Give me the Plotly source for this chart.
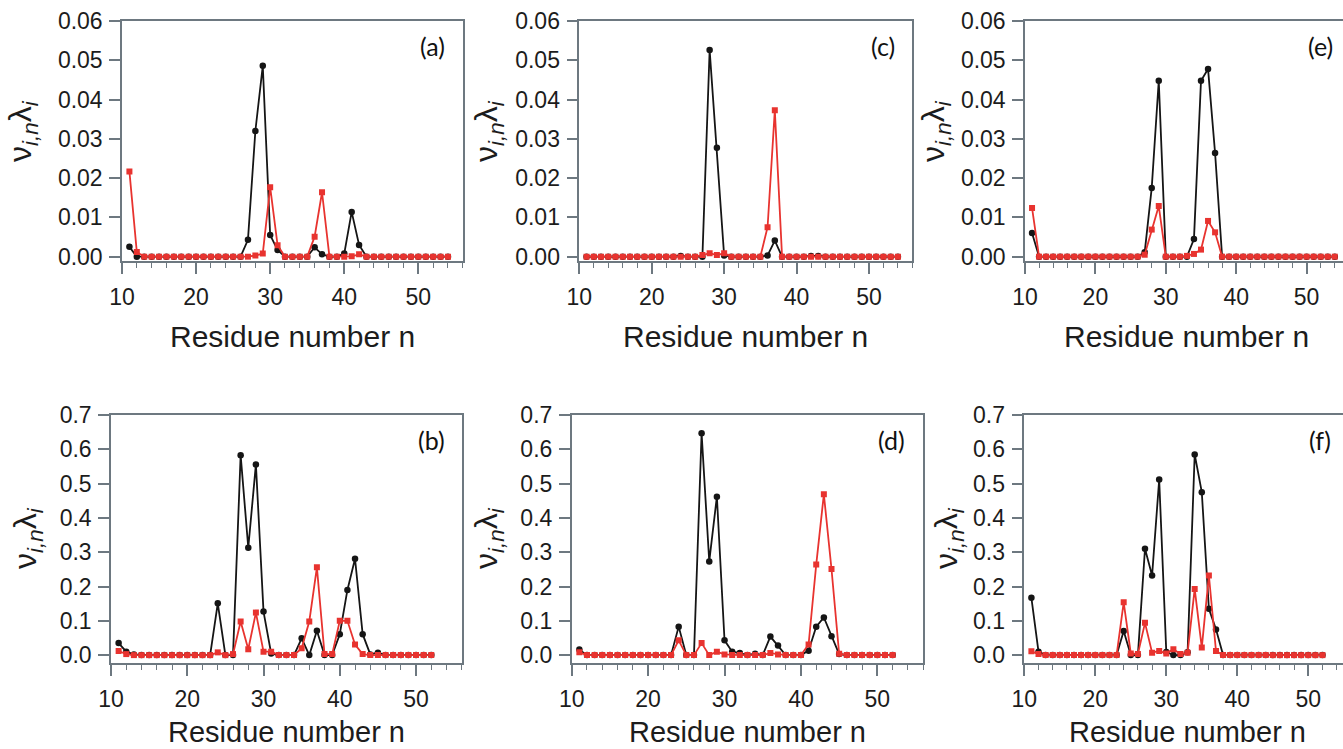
import plotly.graph_objects as go

# ---------------- data ----------------
residues_top = [11, 12, 13, 14, 15, 16, 17, 18, 19, 20,
                21, 22, 23, 24, 25, 26, 27, 28, 29, 30,
                31, 32, 33, 34, 35, 36, 37, 38, 39, 40,
                41, 42, 43, 44, 45, 46, 47, 48, 49, 50,
                51, 52, 53, 54]
residues_bottom = [11, 12, 13, 14, 15, 16, 17, 18, 19, 20,
                   21, 22, 23, 24, 25, 26, 27, 28, 29, 30,
                   31, 32, 33, 34, 35, 36, 37, 38, 39, 40,
                   41, 42, 43, 44, 45, 46, 47, 48, 49, 50,
                   51, 52]

# panel (a)
a_black = [0.0025, 0, 0, 0, 0, 0, 0, 0, 0, 0,
           0, 0, 0, 0, 0, 0, 0.0043, 0.032, 0.0486, 0.0055,
           0.0017, 0, 0, 0, 0, 0.0024, 0.0006, 0, 0, 0.0008,
           0.0114, 0.003, 0, 0, 0, 0, 0, 0, 0, 0,
           0, 0, 0, 0]
a_red = [0.0217, 0.0012, 0, 0, 0, 0, 0, 0, 0, 0,
         0, 0, 0, 0, 0, 0, 0, 0.0003, 0.0008, 0.0177,
         0.0029, 0, 0, 0, 0, 0.0051, 0.0164, 0, 0, 0,
         0.0001, 0.0006, 0, 0, 0, 0, 0, 0, 0, 0,
         0, 0, 0, 0]
# panel (c)
c_black = [0, 0, 0, 0, 0, 0, 0, 0, 0, 0,
           0, 0, 0, 0.0002, 0, 0, 0, 0.0526, 0.0277, 0.0003,
           0, 0, 0, 0, 0, 0.0003, 0.0041, 0, 0, 0,
           0, 0.0002, 0.0002, 0, 0, 0, 0, 0, 0, 0,
           0, 0, 0, 0]
c_red = [0, 0, 0, 0, 0, 0, 0, 0, 0, 0,
         0, 0, 0, 0, 0, 0, 0.0004, 0.0009, 0.0004, 0.0009,
         0, 0, 0, 0, 0, 0.0075, 0.0373, 0, 0, 0,
         0, 0, 0, 0, 0, 0, 0, 0, 0, 0,
         0, 0, 0, 0]
# panel (e)
e_black = [0.006, 0, 0, 0, 0, 0, 0, 0, 0, 0,
           0, 0, 0, 0, 0, 0, 0.0011, 0.0175, 0.0448, 0,
           0, 0, 0, 0.0045, 0.0448, 0.0478, 0.0264, 0, 0, 0,
           0, 0, 0, 0, 0, 0, 0, 0, 0, 0,
           0, 0, 0, 0]
e_red = [0.0124, 0, 0, 0, 0, 0, 0, 0, 0, 0,
         0, 0, 0, 0, 0, 0, 0.0005, 0.0069, 0.0129, 0,
         0, 0, 0.0002, 0.0007, 0.0018, 0.0091, 0.0062, 0, 0, 0,
         0, 0, 0, 0, 0, 0, 0, 0, 0, 0,
         0, 0, 0, 0]
# panel (b)
b_black = [0.035, 0.01, 0.002, 0, 0, 0, 0, 0, 0, 0,
           0, 0, 0, 0.151, 0, 0, 0.583, 0.313, 0.556, 0.127,
           0.005, 0, 0, 0, 0.049, 0, 0.071, 0, 0, 0.061,
           0.19, 0.281, 0.061, 0.002, 0.007, 0, 0, 0, 0, 0,
           0, 0]
b_red = [0.012, 0.003, 0, 0, 0, 0, 0, 0, 0, 0,
         0, 0, 0, 0.008, 0, 0.003, 0.098, 0.017, 0.124, 0.01,
         0.01, 0, 0, 0, 0.02, 0.098, 0.256, 0.003, 0.003, 0.1,
         0.1, 0.031, 0.003, 0, 0, 0, 0, 0, 0, 0,
         0, 0]
# panel (d)
d_black = [0.016, 0, 0, 0, 0, 0, 0, 0, 0, 0,
           0, 0, 0, 0.083, 0, 0, 0.647, 0.273, 0.462, 0.043,
           0.01, 0.006, 0, 0.004, 0, 0.054, 0.028, 0, 0, 0,
           0.013, 0.083, 0.11, 0.055, 0.003, 0, 0, 0, 0, 0,
           0, 0]
d_red = [0.008, 0, 0, 0, 0, 0, 0, 0, 0, 0,
         0, 0, 0, 0.043, 0, 0, 0.035, 0, 0.01, 0.002,
         0, 0, 0, 0, 0, 0.006, 0.002, 0, 0, 0,
         0.031, 0.264, 0.469, 0.251, 0.004, 0, 0, 0, 0, 0,
         0, 0]
# panel (f)
f_black = [0.167, 0.01, 0, 0, 0, 0, 0, 0, 0, 0,
           0, 0, 0, 0.07, 0, 0, 0.31, 0.232, 0.512, 0.009,
           0, 0, 0.008, 0.585, 0.475, 0.135, 0.075, 0, 0, 0,
           0, 0, 0, 0, 0, 0, 0, 0, 0, 0,
           0, 0]
f_red = [0.011, 0.003, 0, 0, 0, 0, 0, 0, 0, 0,
         0, 0, 0, 0.154, 0.005, 0.003, 0.094, 0.007, 0.012, 0.005,
         0.017, 0.003, 0.007, 0.193, 0.022, 0.232, 0.012, 0, 0, 0,
         0, 0, 0, 0, 0, 0, 0, 0, 0, 0,
         0, 0]

panel_labels = ["(a)", "(c)", "(e)", "(b)", "(d)", "(f)"]
x_ticks = [10, 20, 30, 40, 50]
x_title = "Residue number n"
y_title = "ν<sub><i>i,n</i></sub>λ<sub><i>i</i></sub>"

# ---------------- layout geometry ----------------
W, H = 1343, 749
BLACK = "#151515"
RED = "#e8332f"
FRAME = "#6d7880"
FONT = "Arial, Liberation Sans, sans-serif"

panels = [
    dict(res=residues_top, k=a_black, r=a_red, xd=(122, 462.8), yd=(21, 261), xr=(10, 56), top=True, ytx=22, lx=447),
    dict(res=residues_top, k=c_black, r=c_red, xd=(579.3, 912.4), yd=(21, 261), xr=(10, 56), top=True, ytx=488, lx=897),
    dict(res=residues_top, k=e_black, r=e_red, xd=(1025, 1343), yd=(21, 261), xr=(10, 55.17), top=True, ytx=935, lx=1335),
    dict(res=residues_bottom, k=b_black, r=b_red, xd=(111, 461.8), yd=(415, 663), xr=(10, 56), top=False, ytx=27, lx=447),
    dict(res=residues_bottom, k=d_black, r=d_red, xd=(571.7, 923.2), yd=(415, 663), xr=(10, 56), top=False, ytx=488, lx=907),
    dict(res=residues_bottom, k=f_black, r=f_red, xd=(1024.3, 1343), yd=(415, 663), xr=(10, 54.89), top=False, ytx=948, lx=1333),
]

fig = go.Figure()
layout = dict(
    width=W, height=H,
    margin=dict(l=0, r=0, t=0, b=0),
    paper_bgcolor="white", plot_bgcolor="white",
    showlegend=False,
    annotations=[],
)

for i, p in enumerate(panels):
    n = i + 1
    xa = "x" if n == 1 else f"x{n}"
    ya = "y" if n == 1 else f"y{n}"
    fig.add_trace(go.Scatter(
        x=p["res"], y=p["k"], xaxis=xa, yaxis=ya, mode="lines+markers",
        line=dict(color=BLACK, width=1.8),
        marker=dict(symbol="circle", size=6.5, color=BLACK),
    ))
    fig.add_trace(go.Scatter(
        x=p["res"], y=p["r"], xaxis=xa, yaxis=ya, mode="lines+markers",
        line=dict(color=RED, width=1.8),
        marker=dict(symbol="square", size=6, color=RED),
    ))
    xdom = [p["xd"][0] / W, min(1.0, p["xd"][1] / W)]
    ydom = [1 - p["yd"][1] / H, 1 - p["yd"][0] / H]
    if p["top"]:
        yrange = [-0.0011, 0.06]
        yticks = dict(tickvals=[0, 0.01, 0.02, 0.03, 0.04, 0.05, 0.06], tickformat=".2f")
    else:
        yrange = [-0.023, 0.7]
        yticks = dict(tickvals=[0, 0.1, 0.2, 0.3, 0.4, 0.5, 0.6, 0.7], tickformat=".1f")
    layout["xaxis" if n == 1 else f"xaxis{n}"] = dict(
        domain=xdom, range=list(p["xr"]), anchor=ya,
        tickvals=x_ticks, ticks="outside", ticklen=11, tickwidth=1.5, tickcolor=FRAME,
        minor=dict(dtick=2, tick0=10, ticks="outside", ticklen=5, tickwidth=1.3, tickcolor=FRAME),
        showline=True, linecolor=FRAME, linewidth=1.5, mirror=True,
        showgrid=False, zeroline=False, automargin=False,
        tickfont=dict(family=FONT, size=23, color="#1c1c1c"),
        ticklabelstandoff=4,
    )
    layout["yaxis" if n == 1 else f"yaxis{n}"] = dict(
        domain=ydom, range=yrange, anchor=xa,
        ticks="outside", ticklen=11, tickwidth=1.5, tickcolor=FRAME,
        showline=True, linecolor=FRAME, linewidth=1.5, mirror=True,
        showgrid=False, zeroline=False, automargin=False,
        tickfont=dict(family=FONT, size=23, color="#1c1c1c"),
        ticklabelstandoff=2,
        **yticks,
    )
    # panel letter
    layout["annotations"].append(dict(
        text=panel_labels[i], xref="paper", yref="paper",
        x=p["lx"] / W, y=1 - (p["yd"][0] + 25) / H,
        xanchor="right", yanchor="middle", showarrow=False,
        font=dict(family="Lato, Open Sans, sans-serif", size=25, color="#111"),
    ))
    # x title
    cx = (p["xd"][0] + p["xd"][0] + (56 - 10) * (p["xd"][1] - p["xd"][0]) / (p["xr"][1] - p["xr"][0])) / 2
    if p["top"]:
        layout["annotations"].append(dict(
            text=x_title, xref="paper", yref="paper",
            x=cx / W, y=1 - 336 / H,
            xanchor="center", yanchor="middle", showarrow=False,
            font=dict(family=FONT, size=30, color="#1c1c1c"),
        ))
    else:
        layout["annotations"].append(dict(
            text=x_title, xref="paper", yref="paper",
            x=cx / W, y=0.0,
            xanchor="center", yanchor="bottom", showarrow=False, borderpad=0,
            font=dict(family=FONT, size=29, color="#1c1c1c"),
        ))
    # y title
    layout["annotations"].append(dict(
        text=y_title, xref="paper", yref="paper",
        x=p["ytx"] / W, y=1 - ((131 if p["top"] else 538) / H),
        xanchor="center", yanchor="middle", showarrow=False, textangle=-90,
        font=dict(family=FONT, size=32, color="#1c1c1c"),
    ))

fig.update_layout(**layout)
fig.write_html("out.html")
